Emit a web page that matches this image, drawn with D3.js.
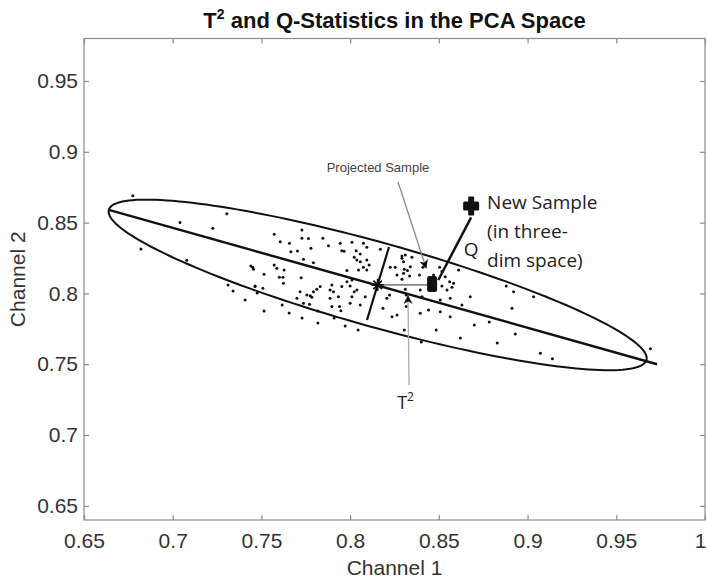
<!DOCTYPE html>
<html><head><meta charset="utf-8">
<script src="https://cdn.jsdelivr.net/npm/d3@7"></script>
<style>body{margin:0;background:#fff}svg{display:block}</style>
</head><body><svg id="c" width="707" height="581"></svg>
<script>
const xTicks=[0.65,0.7,0.75,0.8,0.85,0.9,0.95,1];
const xTickLabels=["0.65","0.7","0.75","0.8","0.85","0.9","0.95","1"];
const yTicks=[0.65,0.7,0.75,0.8,0.85,0.9,0.95];
const yTickLabels=["0.65","0.7","0.75","0.8","0.85","0.9","0.95"];

const sampleX=[0.6775,0.7305,0.7041,0.7226,0.6821,0.7079,0.744,0.7455,0.7464,
0.7728,0.7572,0.7606,0.7658,0.7728,0.7765,0.7846,0.7779,0.7878,0.7944,0.801,0.8075,0.8094,0.7953,0.7966,0.8034,0.8057,0.7666,0.7703,0.817,
0.7737,0.7793,0.8023,0.8038,0.8057,0.8094,0.8107,0.8075,0.8047,0.8094,0.7982,0.7451,0.7572,0.7587,0.7628,0.7515,0.7601,0.7621,0.7724,0.7624,0.7464,0.7508,
0.8292,0.8292,0.8226,0.8254,0.8305,0.8264,0.8292,0.7831,0.7812,0.7793,0.7718,0.7756,0.7775,0.7897,0.7887,0.7953,0.7982,0.801,0.8,0.8038,0.8023,
0.7934,0.7887,0.801,0.7906,0.77,0.7737,0.7771,0.7784,0.8085,0.8057,0.794,0.7897,0.8,0.7948,0.8222,0.8207,0.8185,0.8264,0.8236,0.832,0.8316,
0.8311,0.8348,0.8301,0.8339,0.8423,0.841,0.8323,0.8301,0.8335,0.8391,0.847,0.8517,0.8504,0.8611,0.8536,0.8561,0.8583,0.8574,0.8517,0.8546,
0.8311,0.8395,0.8316,0.8405,0.8564,0.8508,0.863,0.8677,0.888,0.8921,0.9034,0.8912,0.8442,0.8508,0.8395,0.8564,
0.9692,0.914,0.9072,
0.7312,0.734,0.7476,0.7408,0.7515,0.7617,0.7656,0.7729,0.7818,0.7818,0.791,0.7972,0.8045,0.8305,0.8401,0.8485,0.8621,0.87,0.8784,0.8829,0.8931];
const sampleY=[0.869,0.8563,0.850,0.846,0.8314,0.8234,0.8194,0.8171,0.8053,
0.8448,0.8418,0.8365,0.8354,0.8389,0.8387,0.8389,0.8319,0.8337,0.8354,0.8361,0.8354,0.8326,0.8302,0.8298,0.8302,0.8279,0.8295,0.83,0.8312,
0.8241,0.8217,0.8255,0.8236,0.8224,0.8236,0.8201,0.8185,0.8166,0.8166,0.8161,0.8185,0.8201,0.8178,0.8166,0.8135,0.8114,0.8114,0.8111,0.8072,0.8048,0.8036,
0.8265,0.8248,0.8185,0.8185,0.8171,0.813,0.81,0.8048,0.8029,0.8012,0.8012,0.7989,0.7984,0.806,0.8024,0.8048,0.8083,0.8095,0.8053,0.8024,0.8012,
0.7977,0.7966,0.7977,0.8012,0.7966,0.793,0.7923,0.7973,0.7977,0.7919,0.7907,0.7907,0.793,0.7878,0.7989,0.7966,0.7895,0.7848,0.7836,0.7949,0.7907,
0.8272,0.8255,0.8224,0.8189,0.8213,0.8185,0.8161,0.8142,0.8123,0.813,0.813,0.8154,0.8185,0.8166,0.8118,0.8083,0.8072,0.8044,0.8053,0.8024,
0.8029,0.8024,0.7989,0.7977,0.7966,0.7954,0.7919,0.7977,0.8053,0.8012,0.7977,0.7895,0.7883,0.7871,0.786,0.7836,
0.761,0.7539,0.7578,
0.806,0.8017,0.8003,0.7954,0.7876,0.7919,0.7862,0.7827,0.7876,0.7791,0.7827,0.777,0.7742,0.7742,0.7657,0.7742,0.7686,0.7777,0.7798,0.765,0.7714];

const ellipseCenter=[0.8155,0.806];
const ellipseMajorEnd=[0.967,0.753];
const ellipseMinorEnd=[0.8219,0.8346];
const majorAxisLine=[[0.664,0.859],[0.973,0.750]];
const minorAxisLine=[[0.8219,0.8328],[0.8095,0.7812]];
const projectedSample=[0.8462,0.8066];
const newSample=[0.8682,0.8617];
const qLine=[[0.8682,0.8537],[0.8497,0.8095]];
const t2Line=[[0.8175,0.806],[0.8462,0.806]];
const projArrow=[[0.827,0.8787],[0.8428,0.818]];
const t2Arrow=[[0.8332,0.7353],[0.8326,0.7982]];
const titleText=["T","2"," and Q-Statistics in the PCA Space"];
const newSampleText=["New Sample","(in three-","dim space)"];

const W=707,H=581;
const m={l:84,r:2,t:38.5,b:61};
const svg=d3.select("#c");
const x=d3.scaleLinear().domain([0.65,1]).range([m.l,W-m.r]);
const y=d3.scaleLinear().domain([0.64,0.98]).range([H-m.b,m.t]);
const axisCol="#8a8a8a", textCol="#333";
const tickFont="21px 'Liberation Sans', Arial, sans-serif";

// box
svg.append("rect").attr("x",x(0.65)).attr("y",y(0.98)).attr("width",x(1)-x(0.65)).attr("height",y(0.64)-y(0.98))
  .attr("fill","none").attr("stroke",axisCol).attr("stroke-width",1.2);

function styleAxis(g){
  g.select(".domain").remove();
  g.selectAll(".tick line").attr("stroke",axisCol).attr("stroke-width",1.2);
  g.selectAll(".tick text").style("font",tickFont).attr("fill",textCol);
}
const gx=svg.append("g").attr("transform",`translate(0,${y(0.64)})`)
  .call(d3.axisBottom(x).tickValues(xTicks).tickFormat((d,i)=>xTickLabels[i]).tickSizeInner(-5).tickSizeOuter(0).tickPadding(13));
styleAxis(gx);
gx.selectAll(".tick text").filter(d=>d===1).attr("dx",-5);
const gxt=svg.append("g").attr("transform",`translate(0,${y(0.98)})`)
  .call(d3.axisTop(x).tickValues(xTicks).tickFormat("").tickSizeInner(-5).tickSizeOuter(0));
styleAxis(gxt);
const gy=svg.append("g").attr("transform",`translate(${x(0.65)},0)`)
  .call(d3.axisLeft(y).tickValues(yTicks).tickFormat((d,i)=>yTickLabels[i]).tickSizeInner(-5).tickSizeOuter(0).tickPadding(6));
styleAxis(gy);
const gyr=svg.append("g").attr("transform",`translate(${x(1)},0)`)
  .call(d3.axisRight(y).tickValues(yTicks).tickFormat("").tickSizeInner(-5).tickSizeOuter(0));
styleAxis(gyr);

// title
const t=svg.append("text").attr("x",(x(0.65)+x(1))/2).attr("y",28).attr("text-anchor","middle")
  .style("font","bold 22px 'Liberation Sans', Arial, sans-serif").attr("fill","#111");
t.append("tspan").text(titleText[0]);
t.append("tspan").text(titleText[1]).attr("dy",-9).style("font-size","14px");
t.append("tspan").text(titleText[2]).attr("dy",9);

// axis labels
svg.append("text").attr("x",(x(0.65)+x(1))/2).attr("y",575).attr("text-anchor","middle")
  .style("font",tickFont).attr("fill",textCol).text("Channel 1");
svg.append("text").attr("transform",`translate(25,${(y(0.64)+y(0.98))/2}) rotate(-90)`).attr("text-anchor","middle")
  .style("font",tickFont).attr("fill",textCol).text("Channel 2");

// scatter
const pts=sampleX.map((v,i)=>[v,sampleY[i]]);
svg.append("g").selectAll("circle").data(pts).join("circle")
  .attr("cx",d=>x(d[0])).attr("cy",d=>y(d[1])).attr("r",1.5).attr("fill","#111");

// ellipse
const [cx,cy]=ellipseCenter;
const ax=ellipseMajorEnd[0]-cx, ay=ellipseMajorEnd[1]-cy;
const bx=ellipseMinorEnd[0]-cx, by=ellipseMinorEnd[1]-cy;
const ell=d3.range(0,361,2).map(a=>{const r=a*Math.PI/180;return [cx+ax*Math.cos(r)+bx*Math.sin(r), cy+ay*Math.cos(r)+by*Math.sin(r)];});
const line=d3.line().x(d=>x(d[0])).y(d=>y(d[1]));
svg.append("path").attr("d",line(ell)+"Z").attr("fill","none").attr("stroke","#111").attr("stroke-width",2);

svg.append("path").attr("d",line(majorAxisLine)).attr("stroke","#111").attr("stroke-width",2.5);
svg.append("path").attr("d",line(minorAxisLine)).attr("stroke","#111").attr("stroke-width",2.2);
svg.append("path").attr("d",line(t2Line)).attr("stroke","#888").attr("stroke-width",1.8);

// arrow marker
const defs=svg.append("defs");
defs.append("marker").attr("id","ah").attr("viewBox","0 0 10 10").attr("refX",9).attr("refY",5)
  .attr("markerWidth",9).attr("markerHeight",9).attr("markerUnits","userSpaceOnUse").attr("orient","auto")
  .append("path").attr("d","M0,0L10,5L0,10L3,5Z").attr("fill","#111");
svg.append("path").attr("d",line(projArrow)).attr("stroke","#888").attr("stroke-width",1.3).attr("marker-end","url(#ah)");
svg.append("path").attr("d",line(t2Arrow)).attr("stroke","#aaa").attr("stroke-width",1.3).attr("marker-end","url(#ah)");

// center asterisk
const ccx=x(cx), ccy=y(cy);
[0,45,90,135].forEach(a=>{const r=a*Math.PI/180;svg.append("line")
  .attr("x1",ccx-6*Math.cos(r)).attr("y1",ccy-6*Math.sin(r)).attr("x2",ccx+6*Math.cos(r)).attr("y2",ccy+6*Math.sin(r))
  .attr("stroke","#111").attr("stroke-width",1.8);});

// Q line
svg.append("path").attr("d",line(qLine)).attr("stroke","#111").attr("stroke-width",2.5);
// projected sample
svg.append("rect").attr("x",x(projectedSample[0])-5).attr("y",y(projectedSample[1])-8).attr("width",10).attr("height",16)
  .attr("rx",2.5).attr("fill","#111");
// new sample plus
const nx=x(newSample[0]), ny=y(newSample[1]);
svg.append("rect").attr("x",nx-8).attr("y",ny-4.5).attr("width",16).attr("height",9).attr("rx",1.5).attr("fill","#111");
svg.append("rect").attr("x",nx-3).attr("y",ny-9.5).attr("width",6).attr("height",19).attr("rx",1).attr("fill","#111");

// annotations
svg.append("text").attr("x",x(0.8157)).attr("y",y(0.8855)).attr("text-anchor","middle")
  .style("font","13px 'Liberation Sans', Arial, sans-serif").attr("fill","#444").text("Projected Sample");
const tt=svg.append("text").attr("x",x(0.8265)).attr("y",y(0.7185))
  .style("font","18px 'Open Sans', sans-serif").attr("fill","#222");
tt.append("tspan").text("T");
tt.append("tspan").text("2").attr("dy",-8).style("font-size","12px");
svg.append("text").attr("x",x(0.8682)).attr("y",y(0.8265)).attr("text-anchor","middle")
  .style("font","19px 'Open Sans', sans-serif").attr("fill","#222").text("Q");
newSampleText.forEach((s,i)=>{
  svg.append("text").attr("x",x(0.8772)).attr("y",y(0.8596-i*0.0205))
   .style("font","19px 'Open Sans', sans-serif").attr("fill","#222").text(s);
});
</script></body></html>
